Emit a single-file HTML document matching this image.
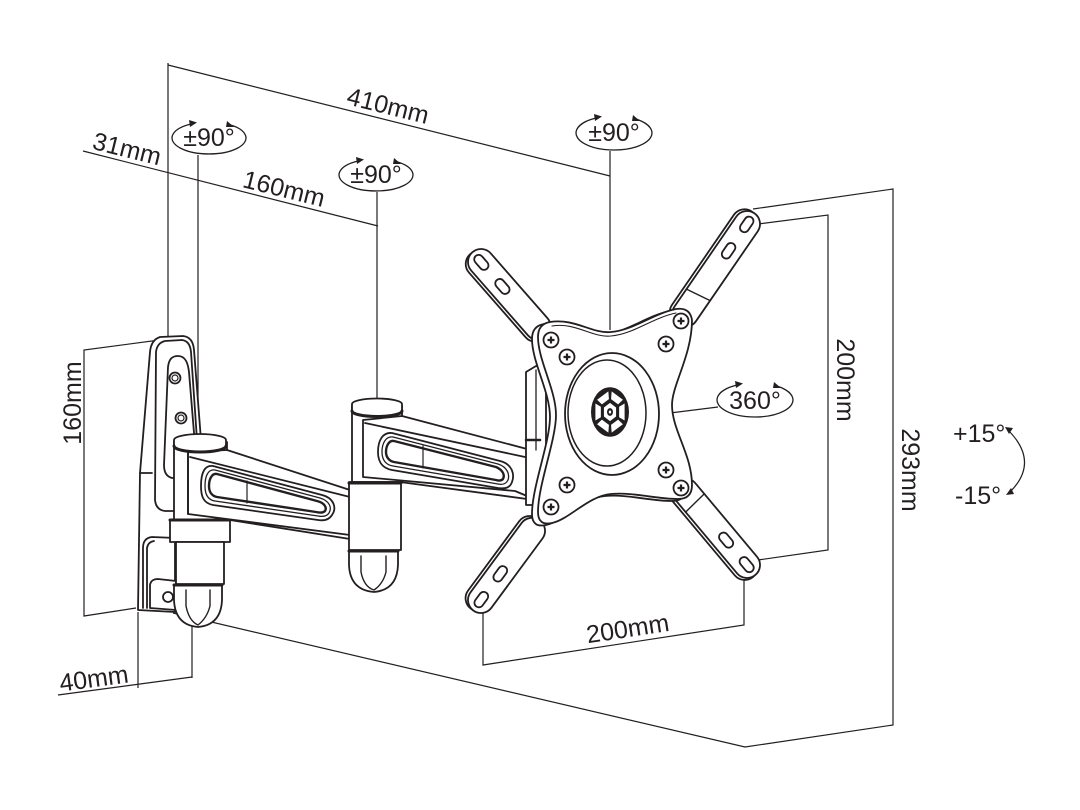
<!DOCTYPE html>
<html><head><meta charset="utf-8"><style>
html,body{margin:0;padding:0;background:#fff;}
svg{display:block}
text{font-family:"Liberation Sans",Arial,sans-serif;fill:#231f20;font-size:25px;}
</style></head><body>
<svg width="1080" height="810" viewBox="0 0 1080 810" xmlns="http://www.w3.org/2000/svg">
<rect width="1080" height="810" fill="#fff"/>
<!-- dimension lines -->
<g fill="none" stroke="#231f20" stroke-width="1.2">
<line x1="168" y1="63" x2="168" y2="338"/>
<line x1="168" y1="65" x2="610" y2="176"/>
<line x1="610" y1="151" x2="610" y2="330"/>
<line x1="83" y1="151" x2="378" y2="226"/>
<line x1="198" y1="155" x2="198" y2="437"/>
<line x1="377" y1="192" x2="377" y2="400"/>
<polyline points="167,339 84,350 84,616 136,608"/>
<line x1="138" y1="612" x2="138" y2="688"/>
<line x1="192" y1="622" x2="192" y2="678"/>
<line x1="58" y1="695" x2="192" y2="677"/>
<polyline points="173,613 745,747 893,725 893,189 753,209"/>
<polyline points="758,224 828,215 828,550 758,560"/>
<polyline points="483,610 483,665 744,625 744,567"/>
<line x1="646" y1="416" x2="718" y2="407"/>
<path d="M1008,430 Q1040,462 1010,492"/>
</g>
<g fill="#231f20">
<polygon points="1005,427 1013,428 1009,434"/>
<polygon points="1006,495 1014,494 1011,488"/>
</g>

<!-- rotation ellipses -->
<g fill="none" stroke="#231f20" stroke-width="1.3">
<path d="M190.5,124.1 A37,16 0 1 0 227.5,124.1"/>
<path d="M357.5,161.1 A37,16 0 1 0 394.5,161.1"/>
<path d="M595,118.3 A38,17 0 1 0 633,118.3"/>
<path d="M736,385.3 A38,17 0 1 0 774,385.3"/>
</g>
<g fill="#231f20">
<polygon points="197,122.5 189,120 190,127"/><polygon points="234,127 227,121 226,127"/>
<polygon points="364,159.5 356,157 357,164"/><polygon points="401,164 394,158 393,164"/>
<polygon points="602,116.5 594,114 595,121"/><polygon points="640,121 633,115 632,121"/>
<polygon points="743,383.5 735,381 736,388"/><polygon points="781,388 774,382 773,388"/>
</g>

<!-- texts -->
<text transform="translate(386,114) rotate(14)" text-anchor="middle">410mm</text>
<text transform="translate(125,157) rotate(14)" text-anchor="middle">31mm</text>
<text transform="translate(282,197) rotate(14)" text-anchor="middle">160mm</text>
<text x="209" y="146" text-anchor="middle">±90°</text>
<text x="376" y="183" text-anchor="middle">±90°</text>
<text x="614" y="141" text-anchor="middle">±90°</text>
<text x="755" y="409" text-anchor="middle">360°</text>
<text transform="translate(81,403) rotate(-90)" text-anchor="middle">160mm</text>
<text transform="translate(837,380) rotate(90)" text-anchor="middle">200mm</text>
<text transform="translate(902,470) rotate(90)" text-anchor="middle">293mm</text>
<text transform="translate(629,637) rotate(-8.7)" text-anchor="middle">200mm</text>
<text transform="translate(95,687) rotate(-7.7)" text-anchor="middle">40mm</text>
<text x="953" y="442">+15°</text>
<text x="955" y="504">-15°</text>

<!-- mount drawing -->
<g stroke="#231f20" stroke-width="1.8" fill="#fff" stroke-linejoin="round" stroke-linecap="round">
<!-- wall plate -->
<path d="M160,337 L183,336 Q193,337 194,350 L201,440 L201,520 L175,540 L175,612 L138,610 L140,473 L150,352 Q151,340 160,337 Z"/>
<path fill="none" d="M156,352 Q157,343 165,341 L182,340 Q190,341 191,352 L197,440 M156,352 L155,500 Q156,510 165,511 L176,511"/>
<path d="M178,356 C186,356 188,364 189,372 L195,445 L195,478 L172,478 Q164,476 164,465 L168,367 C169,359 172,356 178,356 Z"/>
<circle cx="175" cy="378" r="5.5"/><circle cx="175" cy="378" r="3" stroke-width="1.2"/>
<circle cx="181" cy="418" r="5.5"/><circle cx="181" cy="418" r="3" stroke-width="1.2"/>
<line x1="140" y1="473" x2="152" y2="473"/>
<path fill="none" d="M143,608 L143,548 Q143,538 152,537 L176,538 M147,608 L147,548 Q148,542 154,541"/>
<path d="M150,608 L150,585 Q151,579 158,579 L176,581 L176,610 Z"/>
<circle cx="168" cy="597" r="5"/>

<!-- joint 1 upper body -->
<rect x="174" y="442" width="53" height="78"/>
<!-- arm 1 -->
<path d="M188,452 L227,450 L350,490 L350,535 L188,514 Z"/>
<line x1="190" y1="457" x2="350" y2="497"/>
<line x1="230" y1="520" x2="350" y2="539"/>
<path d="M213,466 L322,495 C334,498 337,508 332,515 C329,520 324,521 318,520 L213,505 C203,503 201,496 201,486 C201,472 205,465 213,466 Z"/>
<path fill="none" stroke-width="1.3" d="M215,470 L320,498 C330,501 332,508 329,513 C327,516 323,517 318,516 L215,501 C208,500 205,495 205,486 C205,476 208,469 215,470 Z"/>
<path fill="none" stroke-width="2.4" d="M217,474 L317,501 C325,503 327,508 325,511 C323,513 320,513 316,512 L217,497 C212,496 209,492 209,486 C209,479 212,473 217,474 Z"/>
<line x1="247" y1="481" x2="247" y2="503" stroke-width="1.2"/>
<!-- joint 1 cap -->
<path d="M174,440 A26,6 0 0 1 226,440 L226,446 A26,6 0 0 1 174,446 Z"/>
<path fill="none" stroke-width="3" d="M174,446 A26,6 0 0 0 226,446"/>
<line x1="188" y1="452" x2="188" y2="514"/>
<!-- joint 1 lower -->
<rect x="170" y="520" width="60" height="22"/>
<line x1="170" y1="520" x2="230" y2="520" stroke-width="3"/>
<rect x="176" y="542" width="48" height="42"/>
<path d="M174,585 L174,600 Q175,625 198,627 Q221,625 222,600 L222,585 Z"/>
<line x1="174" y1="585" x2="222" y2="585" stroke-width="3"/>
<path fill="none" stroke-width="1.4" d="M186,590 L186,606 Q189,621 198,625 Q207,618 210,606 L210,590"/>

<!-- joint 2 upper body -->
<rect x="352" y="406" width="50" height="76"/>
<!-- arm 2 -->
<path d="M363,420 L402,416 L527,449 L527,496 L515,491 L363,477 Z"/>
<line x1="365" y1="423" x2="525" y2="457"/>
<line x1="400" y1="482" x2="527" y2="499"/>
<path d="M392,433 L500,461 C512,464 515,474 512,482 C510,488 505,489 498,488 L392,470 C382,468 378,462 378,452 C378,440 383,432 392,433 Z"/>
<path fill="none" stroke-width="1.3" d="M393,437 L498,464 C507,467 510,474 508,480 C506,484 503,485 498,484 L393,466 C386,465 382,460 382,452 C382,443 386,436 393,437 Z"/>
<path fill="none" stroke-width="2.4" d="M394,441 L496,467 C503,470 505,475 503,479 C501,481 499,481 496,480 L394,462 C389,461 386,457 386,452 C386,446 389,440 394,441 Z"/>
<line x1="423" y1="446" x2="423" y2="468" stroke-width="1.2"/>
<!-- joint 2 cap -->
<path d="M352,404 A25,5.5 0 0 1 402,404 L402,411 A25,5.5 0 0 1 352,411 Z"/>
<path fill="none" stroke-width="3" d="M352,411 A25,5.5 0 0 0 402,411"/>
<!-- joint 2 lower -->
<rect x="349" y="482" width="52" height="68"/>
<line x1="349" y1="483" x2="401" y2="483" stroke-width="3"/>
<path d="M349,551 L349,565 Q350,590 374,592 Q397,590 398,565 L398,551 Z"/>
<line x1="349" y1="551" x2="398" y2="551" stroke-width="3"/>
<path fill="none" stroke-width="1.4" d="M361,556 L361,572 Q364,587 374,590 Q383,584 386,572 L386,556"/>

<!-- tilt bracket -->
<path d="M526,372 L536,366 L546,368 L546,505 L526,505 Z"/>
<line x1="536" y1="370" x2="536" y2="450" stroke-width="1.3"/>
<line x1="526" y1="440" x2="540" y2="440" stroke-width="2.5"/>

<!-- VESA arms -->
<g transform="translate(481,262) rotate(48.8)">
<rect x="-13" y="-10" width="112" height="26" rx="13"/>
<rect x="-13" y="-13" width="112" height="26" rx="13"/>
<rect x="-8" y="-4.5" width="17" height="9" rx="4.5"/>
<rect x="24" y="-4.5" width="17" height="9" rx="4.5"/>
</g>
<g transform="translate(747,224) rotate(124.5)">
<rect x="-13" y="-10" width="135" height="26" rx="13"/>
<rect x="-13" y="-13" width="135" height="26" rx="13"/>
<rect x="-8" y="-4.5" width="17" height="9" rx="4.5"/>
<rect x="24" y="-4.5" width="17" height="9" rx="4.5"/>
<line x1="84" y1="-13" x2="88" y2="13" stroke-width="1.4"/>
</g>
<g transform="translate(481,600) rotate(-53.6)">
<rect x="-13" y="-16" width="112" height="26" rx="13"/>
<rect x="-13" y="-13" width="112" height="26" rx="13"/>
<rect x="-8" y="-4.5" width="17" height="9" rx="4.5"/>
<rect x="24" y="-4.5" width="17" height="9" rx="4.5"/>
</g>
<g transform="translate(747,565) rotate(-130)">
<rect x="-13" y="-16" width="122" height="26" rx="13"/>
<rect x="-13" y="-13" width="122" height="26" rx="13"/>
<rect x="-8" y="-4.5" width="17" height="9" rx="4.5"/>
<rect x="24" y="-4.5" width="17" height="9" rx="4.5"/>
<line x1="80" y1="-13" x2="82" y2="13" stroke-width="1.4"/>
</g>

<!-- plate back (thickness) -->
<path transform="translate(-6,2)" d="M550,322 C575,318 592,334 611,332 C634,330 652,314 676,309 Q690,307 692,320 C692,355 672,385 672,405 C672,430 692,455 692,485 Q692,499 678,499 C655,499 634,492 611,494 C588,496 570,519 552,523 Q538,526 538,512 C538,485 556,440 556,415 C556,390 538,360 538,337 Q538,324 550,322 Z"/>
<!-- plate front -->
<path d="M550,322 C575,318 592,334 611,332 C634,330 652,314 676,309 Q690,307 692,320 C692,355 672,385 672,405 C672,430 692,455 692,485 Q692,499 678,499 C655,499 634,492 611,494 C588,496 570,519 552,523 Q538,526 538,512 C538,485 556,440 556,415 C556,390 538,360 538,337 Q538,324 550,322 Z"/>
<path fill="none" stroke-width="1.1" d="M552,326 C576,322 592,338 611,336 C634,334 652,318 676,313"/>

<!-- circles -->
<ellipse cx="612" cy="414" rx="47" ry="61"/>
<ellipse cx="607" cy="413" rx="39" ry="53" stroke-width="1.5"/>
</g>

<!-- hub -->
<g transform="translate(610,412) scale(1,1.3)">
<circle r="19" fill="#231f20"/>
<g fill="#fff">
<polygon points="9.14,-4.07 14.6,-6.5 14.6,6.5 9.14,4.07"/>
<polygon transform="rotate(60)" points="9.14,-4.07 14.6,-6.5 14.6,6.5 9.14,4.07"/>
<polygon transform="rotate(120)" points="9.14,-4.07 14.6,-6.5 14.6,6.5 9.14,4.07"/>
<polygon transform="rotate(180)" points="9.14,-4.07 14.6,-6.5 14.6,6.5 9.14,4.07"/>
<polygon transform="rotate(240)" points="9.14,-4.07 14.6,-6.5 14.6,6.5 9.14,4.07"/>
<polygon transform="rotate(300)" points="9.14,-4.07 14.6,-6.5 14.6,6.5 9.14,4.07"/>
</g>
<polygon points="0,-7 6.06,-3.5 6.06,3.5 0,7 -6.06,3.5 -6.06,-3.5" fill="#fff"/>
<circle r="3" fill="#231f20"/>
<circle r="1.2" fill="#fff"/>
</g>

<!-- screws -->
<g stroke="#231f20" stroke-width="1.8" fill="#fff">
<circle cx="551" cy="340" r="7.5"/><circle cx="567" cy="357" r="7.5"/>
<circle cx="666" cy="344" r="7.5"/><circle cx="681" cy="321" r="7.5"/>
<circle cx="567" cy="485" r="7.5"/><circle cx="551" cy="507" r="7.5"/>
<circle cx="666" cy="470" r="7.5"/><circle cx="681" cy="488" r="7.5"/>
</g>
<g stroke="#231f20" stroke-width="2.2" fill="none">
<path d="M547.5,340 h7 M551,336.5 v7"/>
<path d="M563.5,357 h7 M567,353.5 v7"/>
<path d="M662.5,344 h7 M666,340.5 v7"/>
<path d="M677.5,321 h7 M681,317.5 v7"/>
<path d="M563.5,485 h7 M567,481.5 v7"/>
<path d="M547.5,507 h7 M551,503.5 v7"/>
<path d="M662.5,470 h7 M666,466.5 v7"/>
<path d="M677.5,488 h7 M681,484.5 v7"/>
</g>
</svg>
</body></html>
